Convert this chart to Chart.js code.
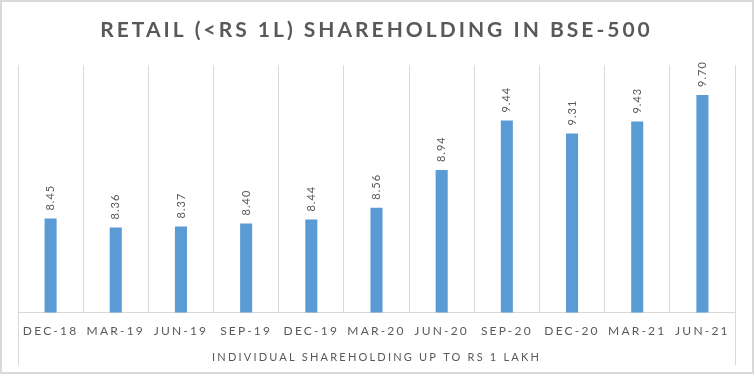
<!DOCTYPE html>
<html>
<head>
<meta charset="utf-8">
<script src="https://cdn.jsdelivr.net/npm/chart.js@4/dist/chart.umd.min.js"></script>
<style>
	html, body { margin: 0; padding: 0; background: #fff; }
	#wrap { position: relative; width: 755px; height: 375px; }
	#frame { position: absolute; left: 0; top: 0; width: 754px; height: 374px; box-sizing: border-box; border: 2px solid #d9d9d9; pointer-events: none; }
	canvas { position: absolute; left: 0; top: 0; }
</style>
</head>
<body>
<div id="wrap">
	<canvas id="retailChart" width="755" height="375"></canvas>
	<div id="frame"></div>
</div>
<script>
(function(){
	const TITLE = 'RETAIL (<RS 1L) SHAREHOLDING IN BSE-500';
	const AXIS_TITLE = 'INDIVIDUAL SHAREHOLDING UP TO RS 1 LAKH';
	const quarters = ['DEC-18','MAR-19','JUN-19','SEP-19','DEC-19','MAR-20','JUN-20','SEP-20','DEC-20','MAR-21','JUN-21'];
	const retailShare = [8.45, 8.36, 8.37, 8.40, 8.44, 8.56, 8.94, 9.44, 9.31, 9.43, 9.70];

	const TEXT = '#595959';
	const GRID = '#d9d9d9';
	const BAR = '#5b9bd5';
	const AXIS_SPACING = '2.2px';
	const TITLE_SPACING = '3px';

	// canvas letter spacing, reset whenever the canvas is resized
	const spacing = {
		id: 'spacing',
		afterInit(chart){
			const tb = chart.titleBlock;
			if(tb){
				const orig = tb.draw.bind(tb);
				tb.draw = function(){
					chart.ctx.letterSpacing = TITLE_SPACING;
					orig();
					chart.ctx.letterSpacing = AXIS_SPACING;
				};
			}
		},
		beforeUpdate(chart){ chart.ctx.letterSpacing = AXIS_SPACING; },
		beforeDraw(chart){ chart.ctx.letterSpacing = AXIS_SPACING; }
	};

	// rotated value labels above each bar
	const valueLabels = {
		id: 'valueLabels',
		afterDatasetsDraw(chart){
			const ctx = chart.ctx;
			const meta = chart.getDatasetMeta(0);
			ctx.save();
			ctx.letterSpacing = '1px';
			ctx.font = '11px Lato';
			ctx.fillStyle = TEXT;
			ctx.textAlign = 'left';
			ctx.textBaseline = 'middle';
			meta.data.forEach((bar, i) => {
				ctx.save();
				ctx.translate(bar.x, bar.y - 8);
				ctx.rotate(-Math.PI / 2);
				ctx.fillText(retailShare[i].toFixed(2), 0, 0);
				ctx.restore();
			});
			ctx.restore();
		}
	};

	// outer category lines run down through the label band
	const edgeLines = {
		id: 'edgeLines',
		afterDraw(chart){
			const ctx = chart.ctx;
			const area = chart.chartArea;
			const x = chart.scales.x;
			ctx.save();
			ctx.strokeStyle = GRID;
			ctx.lineWidth = 1;
			ctx.beginPath();
			[area.left, area.right].forEach(px => {
				const p = Math.round(px) + 0.5;
				ctx.moveTo(p, area.bottom);
				ctx.lineTo(p, x.bottom - 4);
			});
			ctx.stroke();
			ctx.restore();
		}
	};

	new Chart(document.getElementById('retailChart'), {
		type: 'bar',
		data: {
			labels: quarters,
			datasets: [{
				data: retailShare,
				backgroundColor: BAR,
				borderWidth: 0,
				categoryPercentage: 1,
				barPercentage: 0.185
			}]
		},
		options: {
			responsive: false,
			animation: false,
			layout: { padding: { left: 18, right: 20, top: 0, bottom: 6 } },
			plugins: {
				legend: { display: false },
				tooltip: { enabled: false },
				title: {
					display: true,
					text: TITLE,
					color: TEXT,
					font: { family: 'Lato', size: 21, weight: 'bold' },
					padding: { top: 18, bottom: 22 }
				}
			},
			scales: {
				x: {
					grid: { color: GRID, offset: true, drawTicks: false },
					border: { color: GRID },
					ticks: {
						color: TEXT,
						font: { family: 'Lato', size: 12 },
						padding: 11,
						maxRotation: 0,
						autoSkip: false
					},
					title: {
						display: true,
						text: AXIS_TITLE,
						color: TEXT,
						font: { family: 'Lato', size: 11 },
						padding: { top: 1.5, bottom: 5.4 }
					}
				},
				y: {
					display: false,
					min: 7.5,
					max: 10
				}
			}
		},
		plugins: [spacing, valueLabels, edgeLines]
	});
})();
</script>
</body>
</html>
